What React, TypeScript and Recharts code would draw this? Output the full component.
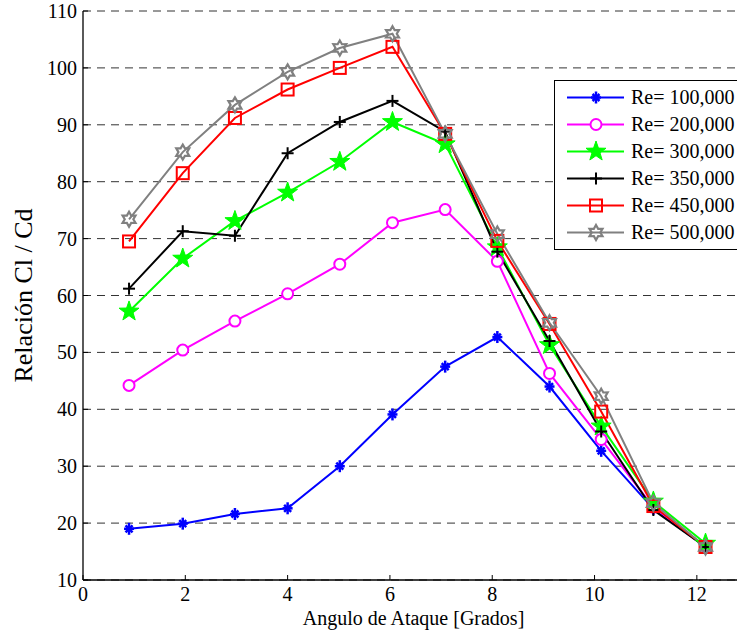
import React from "react";
import { LineChart, Line, XAxis, YAxis, CartesianGrid } from "recharts";

// angle of attack (deg)
const angles = [0.9, 1.95, 2.97, 4.0, 5.02, 6.05, 7.08, 8.1, 9.12, 10.13, 11.15, 12.17];

const re100 = [19.0, 19.9, 21.6, 22.6, 30.0, 39.1, 47.5, 52.7, 44.0, 32.7, 22.5, 15.8];
const re200 = [44.2, 50.4, 55.5, 60.3, 65.5, 72.8, 75.1, 66.0, 46.3, 34.7, 22.8, 15.9];
const re300 = [57.2, 66.5, 73.1, 78.1, 83.5, 90.5, 86.6, 68.5, 51.3, 37.0, 23.8, 16.4];
const re350 = [61.2, 71.3, 70.5, 85.0, 90.5, 94.2, 88.8, 67.7, 52.0, 36.1, 22.3, 15.8];
const re450 = [69.5, 81.5, 91.2, 96.2, 100.0, 103.7, 88.4, 69.6, 55.0, 39.6, 23.0, 15.8];
const re500 = [73.4, 85.2, 93.5, 99.3, 103.5, 106.0, 88.4, 70.8, 55.2, 42.3, 23.5, 15.8];

const xTicks = [0, 2, 4, 6, 8, 10, 12];
const yTicks = [10, 20, 30, 40, 50, 60, 70, 80, 90, 100, 110];

type Shape = "asterisk" | "circle" | "pentagram" | "plus" | "square" | "hexagram";

const seriesList: { key: string; name: string; color: string; shape: Shape; values: number[] }[] = [
  { key: "r100", name: "Re= 100,000", color: "#0000FF", shape: "asterisk", values: re100 },
  { key: "r200", name: "Re= 200,000", color: "#FF00FF", shape: "circle", values: re200 },
  { key: "r300", name: "Re= 300,000", color: "#00FF00", shape: "pentagram", values: re300 },
  { key: "r350", name: "Re= 350,000", color: "#000000", shape: "plus", values: re350 },
  { key: "r450", name: "Re= 450,000", color: "#FF0000", shape: "square", values: re450 },
  { key: "r500", name: "Re= 500,000", color: "#808080", shape: "hexagram", values: re500 },
];

const data = angles.map((a, i) => {
  const row: any = { x: a };
  seriesList.forEach((s) => (row[s.key] = s.values[i]));
  return row;
});

const FONT = "Liberation Serif, Times New Roman, serif";

const starPoints = (cx: number, cy: number, n: number, ro: number, ri: number) => {
  const pts: string[] = [];
  for (let i = 0; i < n * 2; i++) {
    const r = i % 2 === 0 ? ro : ri;
    const ang = -Math.PI / 2 + (i * Math.PI) / n;
    pts.push(`${cx + r * Math.cos(ang)},${cy + r * Math.sin(ang)}`);
  }
  return pts.join(" ");
};

const Marker = ({ cx, cy, shape, color }: { cx: number; cy: number; shape: Shape; color: string }) => {
  if (cx == null || cy == null) return <g />;
  switch (shape) {
    case "asterisk":
      return (
        <g stroke={color} strokeWidth={2.5}>
          <line x1={cx} y1={cy - 6} x2={cx} y2={cy + 6} />
          <line x1={cx - 5} y1={cy} x2={cx + 5} y2={cy} />
          <line x1={cx - 3.5} y1={cy - 3.5} x2={cx + 3.5} y2={cy + 3.5} />
          <line x1={cx - 3.5} y1={cy + 3.5} x2={cx + 3.5} y2={cy - 3.5} />
        </g>
      );
    case "circle":
      return <circle cx={cx} cy={cy} r={5.5} fill="#fff" stroke={color} strokeWidth={2} />;
    case "pentagram":
      return <polygon points={starPoints(cx, cy, 5, 10.5, 4.2)} fill={color} stroke={color} strokeWidth={1} />;
    case "plus":
      return (
        <g stroke={color} strokeWidth={2}>
          <line x1={cx} y1={cy - 6} x2={cx} y2={cy + 6} />
          <line x1={cx - 6} y1={cy} x2={cx + 6} y2={cy} />
        </g>
      );
    case "square":
      return <rect x={cx - 6} y={cy - 6} width={12} height={12} fill="none" stroke={color} strokeWidth={2} />;
    case "hexagram":
      return <polygon points={starPoints(cx, cy, 6, 7.5, 4.3)} fill="none" stroke={color} strokeWidth={2.2} />;
  }
  return <g />;
};

const XTick = (props: any) => (
  <text x={props.x} y={props.y} dy={14} textAnchor="middle" fontFamily={FONT} fontSize={20} fill="#000">
    {props.payload.value}
  </text>
);

const YTick = (props: any) => (
  <text x={props.x} y={props.y} dy={7} textAnchor="end" fontFamily={FONT} fontSize={20} fill="#000">
    {props.payload.value}
  </text>
);

const YLabel = (props: any) => {
  const vb = props.viewBox || {};
  const x = 24;
  const y = vb.y + vb.height / 2;
  return (
    <text x={x} y={y} transform={`rotate(-90, ${x}, ${y})`} textAnchor="middle" fontFamily={FONT} fontSize={26} fill="#000">
      Relación Cl / Cd
    </text>
  );
};

const XLabel = (props: any) => {
  const vb = props.viewBox || {};
  return (
    <text x={vb.x + vb.width / 2 - 2} y={vb.y + 45} textAnchor="middle" fontFamily={FONT} fontSize={20} fill="#000">
      Angulo de Ataque [Grados]
    </text>
  );
};

const LegendBox = () => (
  <div
    style={{
      position: "absolute",
      left: 546,
      top: 80,
      width: 220,
      border: "1px solid #000",
      background: "#fff",
      padding: "3px 0 3px 0",
      fontFamily: FONT,
      fontSize: 20,
    }}
  >
    {seriesList.map((s) => (
      <div key={s.key} style={{ display: "flex", alignItems: "center", height: 27 }}>
        <svg width={70} height={27} style={{ display: "block" }}>
          <line x1={12} y1={13.5} x2={69} y2={13.5} stroke={s.color} strokeWidth={2} />
          <Marker cx={41} cy={13.5} shape={s.shape} color={s.color} />
        </svg>
        <span style={{ marginLeft: 6, whiteSpace: "nowrap", lineHeight: "27px" }}>{s.name}</span>
      </div>
    ))}
  </div>
);

const App = () => {
  return (
    <div
      style={{
        position: "fixed",
        left: 8,
        top: 0,
        width: 729,
        height: 636,
        overflow: "hidden",
        background: "#fff",
        fontFamily: FONT,
      }}
    >
      <LineChart
        width={750}
        height={636}
        data={data}
        margin={{ top: 11, right: 10, left: 0, bottom: 0 }}
        style={{ fontFamily: FONT }}
      >
        <CartesianGrid vertical={false} stroke="#333" strokeDasharray="8 6" />
        <XAxis
          dataKey="x"
          type="number"
          domain={[0, 13]}
          ticks={xTicks}
          height={56}
          tickSize={-5}
          tickMargin={12}
          tick={<XTick />}
          axisLine={{ stroke: "#000", strokeWidth: 1.3 }}
          tickLine={{ stroke: "#000" }}
          allowDataOverflow
          label={(p: any) => <XLabel {...p} />}
        />
        <XAxis
          xAxisId="top"
          orientation="top"
          dataKey="x"
          type="number"
          domain={[0, 13]}
          ticks={xTicks}
          height={0}
          tickSize={5}
          tickFormatter={() => ""}
          axisLine={{ stroke: "#000", strokeWidth: 1.3 }}
          tickLine={{ stroke: "#000" }}
          allowDataOverflow
        />
        <YAxis
          type="number"
          domain={[10, 110]}
          ticks={yTicks}
          width={75}
          tickSize={-5}
          tickMargin={11}
          tick={<YTick />}
          axisLine={{ stroke: "#000", strokeWidth: 1.3 }}
          tickLine={{ stroke: "#000" }}
          allowDataOverflow
          label={(p: any) => <YLabel {...p} />}
        />
        {seriesList.map((s) => (
          <Line
            key={s.key}
            dataKey={s.key}
            name={s.name}
            type="linear"
            stroke={s.color}
            strokeWidth={2}
            isAnimationActive={false}
            activeDot={false}
            dot={(p: any) => <Marker key={`${s.key}-${p.index}`} cx={p.cx} cy={p.cy} shape={s.shape} color={s.color} />}
          />
        ))}
      </LineChart>
      <LegendBox />
    </div>
  );
};

export default App;
